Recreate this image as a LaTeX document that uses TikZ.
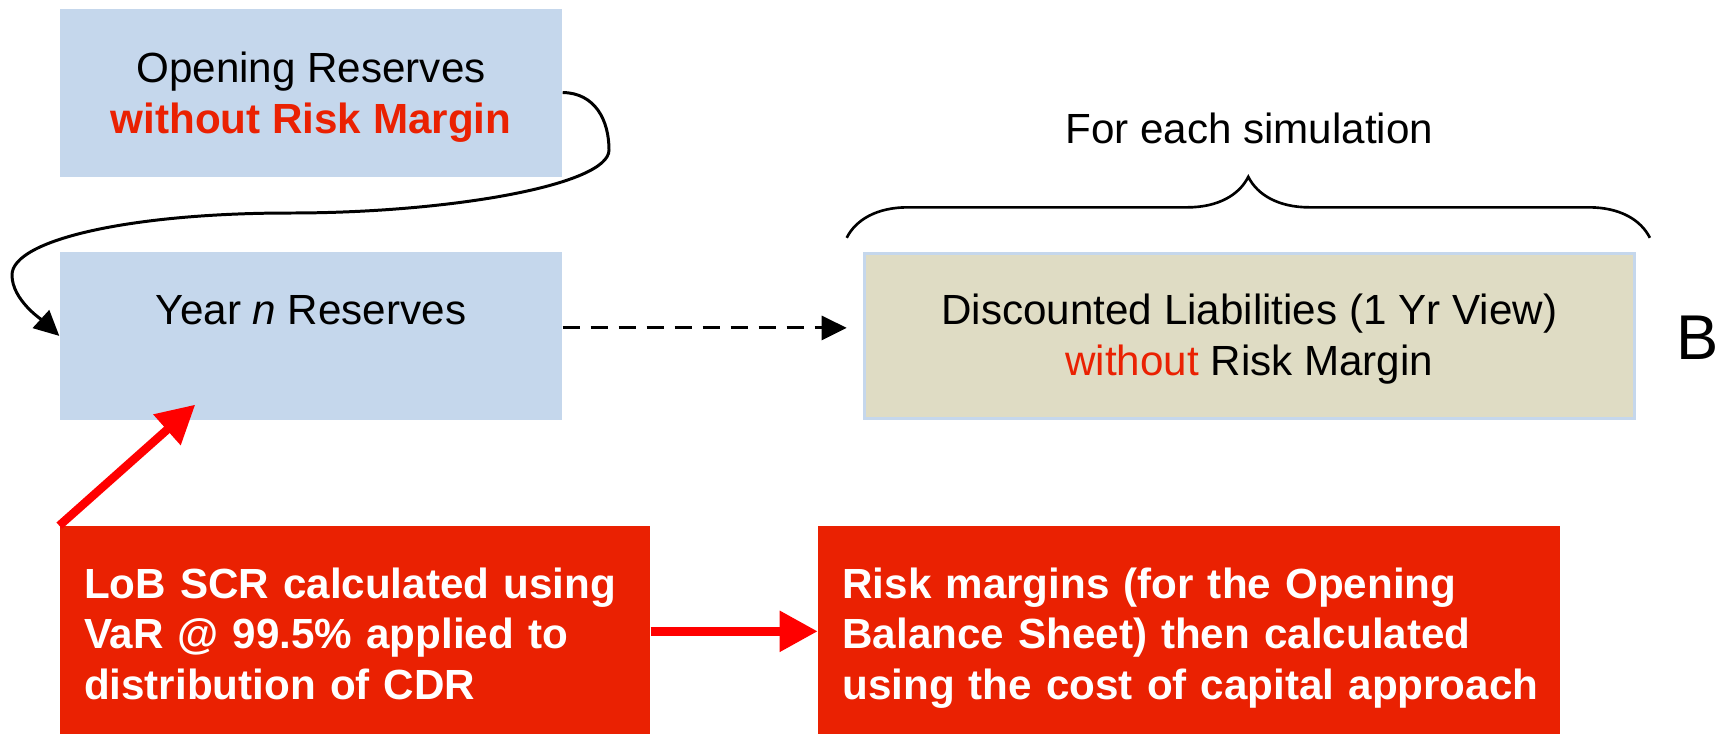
\documentclass[tikz,border=0pt]{standalone}
\usepackage{fontspec}
\setmainfont{Liberation Sans}
\usetikzlibrary{positioning, arrows.meta, decorations.pathreplacing}
\definecolor{boxblue}{RGB}{197,215,236}
\definecolor{boxtan}{RGB}{223,220,196}
\definecolor{boxred}{RGB}{234,33,2}
\definecolor{arrowred}{RGB}{255,0,0}

\begin{document}
\begin{tikzpicture}[
    font=\fontsize{12}{14.5}\selectfont,
    reserve/.style={rectangle, fill=boxblue, minimum width=5.02cm, minimum height=1.68cm, align=center, inner sep=0pt},
    liability/.style={rectangle, draw=boxblue, line width=0.9pt, fill=boxtan, minimum width=7.70cm, minimum height=1.65cm, align=center, inner sep=0pt},
    note/.style={rectangle, fill=boxred, text=white, font=\fontsize{12}{14.5}\selectfont\bfseries, align=left, inner xsep=0.24cm, inner ysep=0pt, minimum height=2.30cm},
    flow/.style={-{Triangle[length=0.25cm, width=0.24cm]}, line width=0.85pt},
    redarrow/.style={-{Triangle[length=0.38cm, width=0.39cm]}, arrowred, line width=2.4pt}
]
\clip (0,0) rectangle (17.24,-7.33);

\node[reserve] (open) at (3.11,-0.925) {\rule{0pt}{0.40cm}Opening Reserves\\\textcolor{boxred}{\bfseries without Risk Margin}};
\node[reserve, below=0.74cm of open] (yearn) {Year \textit{n} Reserves\\\mbox{}};
\node[liability, right=3.0cm of yearn] (disc) {\rule{0pt}{0.36cm}Discounted Liabilities (1 Yr View)\\\textcolor{boxred}{without} Risk Margin};
\node[above=1.08cm of disc.north, anchor=base] (simlabel) {For each simulation};
\node[right=0.40cm of disc.east, anchor=base west, yshift=-0.235cm, inner sep=0pt, font=\fontsize{18}{21.6}\selectfont] (bsheet) {B};
\node[note, text width=5.42cm, below=1.05cm of yearn.south west, anchor=north west] (scr) {LoB SCR calculated using\\VaR @ 99.5\% applied to\\distribution of CDR\strut};
\node[note, text width=6.94cm, right=1.67cm of scr] (margin) {Risk margins (for the Opening\\Balance Sheet) then calculated\\\mbox{using the cost of capital approach}\strut};

\draw[flow] (open.east) .. controls (5.95,-0.93) and (6.09,-1.2) .. (6.09,-1.5)
    .. controls (6.09,-1.85) and (4.5,-2.13) .. (2.9,-2.13)
    .. controls (1.3,-2.13) and (0.12,-2.4) .. (0.12,-2.75)
    .. controls (0.12,-3.0) and (0.42,-3.2) .. (yearn.west);
\draw[flow, dash pattern=on 0.17cm off 0.11cm, shorten >=0.16cm] ([yshift=0.08cm]yearn.east) -- ([yshift=0.08cm]disc.west);
\draw[decorate, decoration={brace, amplitude=0.61cm}, line width=0.75pt] ([shift={(-0.16,0.14)}]disc.north west) -- ([shift={(0.14,0.14)}]disc.north east);
\draw[redarrow] (scr.north west) -- ([shift={(1.36,0.16)}]yearn.south west);
\draw[redarrow] ([yshift=0.10cm]scr.east) -- ([yshift=0.10cm]margin.west);

\end{tikzpicture}
\end{document}
